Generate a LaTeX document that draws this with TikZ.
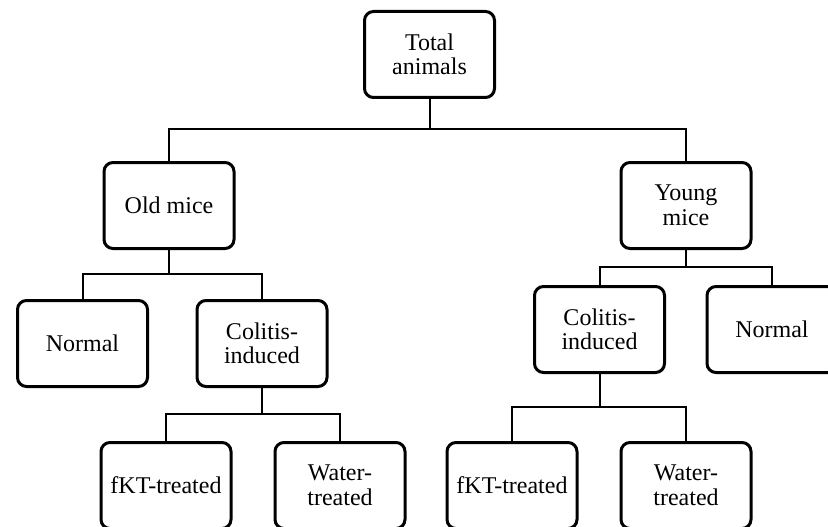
\documentclass[tikz,border=0pt]{standalone}
\usepackage{fontspec}
\setmainfont{Liberation Serif}
\begin{document}
\begin{tikzpicture}[x=1pt,y=-1pt,
  box/.style={draw, line width=3pt, rounded corners=9pt, minimum width=130pt, minimum height=86pt,
    align=center, inner sep=0pt, font=\fontsize{24}{24.5}\selectfont},
  conn/.style={line width=2pt}]
\useasboundingbox (0,0) rectangle (828,527);
\clip (0,0) rectangle (828,527);
\node[box] (total) at (429.5,54.5) {Total\\animals};
\node[box] (old) at (169,205.5) {Old mice};
\node[box] (young) at (686,205.5) {Young\\mice};
\node[box] (normL) at (82.5,343.5) {Normal};
\node[box] (colL) at (262,343.5) {Colitis-\\induced};
\node[box] (colR) at (599.5,329.5) {Colitis-\\induced};
\node[box] (normR) at (772,329.5) {Normal};
\node[box] (fktL) at (166,485.5) {fKT-treated};
\node[box] (watL) at (340,485.5) {Water-\\treated};
\node[box] (fktR) at (512,485.5) {fKT-treated};
\node[box] (watR) at (686,485.5) {Water-\\treated};
\coordinate (j1) at (total.south |- 0,129);
\coordinate (j2) at (old.south |- 0,274);
\coordinate (j3) at (young.south |- 0,267);
\coordinate (j4) at (colL.south |- 0,414);
\coordinate (j5) at (colR.south |- 0,407);
\draw[conn] (total.south) -- (j1);
\draw[conn] (j1) -| (old.north);
\draw[conn] (j1) -| (young.north);
\draw[conn] (old.south) -- (j2);
\draw[conn] (j2) -| (normL.north);
\draw[conn] (j2) -| (colL.north);
\draw[conn] (young.south) -- (j3);
\draw[conn] (j3) -| (colR.north);
\draw[conn] (j3) -| (normR.north);
\draw[conn] (colL.south) -- (j4);
\draw[conn] (j4) -| (fktL.north);
\draw[conn] (j4) -| (watL.north);
\draw[conn] (colR.south) -- (j5);
\draw[conn] (j5) -| (fktR.north);
\draw[conn] (j5) -| (watR.north);
\end{tikzpicture}
\end{document}
